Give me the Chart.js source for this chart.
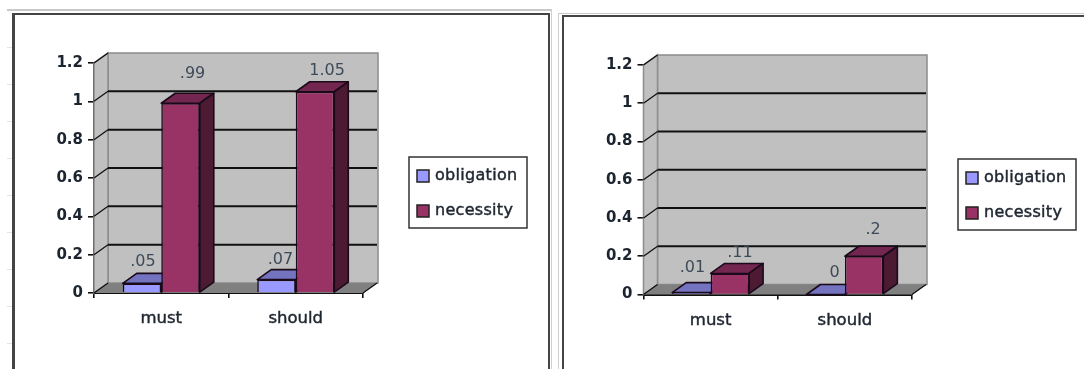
<!DOCTYPE html>
<html>
<head>
<meta charset="utf-8">
<script src="https://cdn.jsdelivr.net/npm/chart.js@4/dist/chart.umd.min.js"></script>
<style>
  html, body { margin: 0; padding: 0; background: #fff; overflow: hidden; }
  #page { position: relative; width: 1084px; height: 369px; filter: blur(0.45px); }
  .line { position: absolute; }
  canvas { position: absolute; top: 0; }
</style>
</head>
<body>
<div id="page">
  <div class="line" style="left:7px;top:9px;width:544px;height:2px;background:#c8c8c8"></div>
  <div class="line" style="left:551px;top:9px;width:1px;height:360px;background:#d0d0d0"></div>
  <div class="line" style="left:7px;top:47px;width:5px;height:322px;background:repeating-linear-gradient(#e4e4e4 0 1px,transparent 1px 37px)"></div>
  <div class="line" style="left:12px;top:13px;width:537px;height:2px;background:#444"></div>
  <div class="line" style="left:12px;top:13px;width:3px;height:356px;background:#444"></div>
  <div class="line" style="left:548px;top:13px;width:2px;height:356px;background:#444"></div>
  <div class="line" style="left:558px;top:13px;width:526px;height:1px;background:#c8c8c8"></div>
  <div class="line" style="left:558px;top:13px;width:1px;height:356px;background:#d0d0d0"></div>
  <div class="line" style="left:562px;top:15px;width:522px;height:2px;background:#444"></div>
  <div class="line" style="left:562px;top:15px;width:2px;height:354px;background:#444"></div>
  <canvas id="left" width="548" height="369" style="left:0"></canvas>
  <canvas id="right" width="532" height="369" style="left:552px"></canvas>
</div>
<script>
const categories = ['must', 'should'];
const seriesNames = ['obligation', 'necessity'];

const leftObligation = [0.05, 0.07];
const leftNecessity = [0.99, 1.05];
const leftObligationText = ['.05', '.07'];
const leftNecessityText = ['.99', '1.05'];

const rightObligation = [0.01, 0];
const rightNecessity = [0.11, 0.2];
const rightObligationText = ['.01', '0'];
const rightNecessityText = ['.11', '.2'];

const textFont = '"DejaVu Sans", sans-serif';
const depthX = 14, depthY = 10;

// fake 3D excel look: walls + floor behind the bars
const wallsPlugin = {
  id: 'walls',
  beforeDatasetsDraw(chart) {
    const { ctx, chartArea: a, scales: { y } } = chart;
    ctx.save();
    ctx.fillStyle = '#c0c0c0';
    ctx.strokeStyle = '#8c8c8c';
    ctx.lineWidth = 1.5;
    ctx.beginPath();
    ctx.rect(a.left + depthX, a.top - depthY, a.width + 1, a.height);
    ctx.fill();
    ctx.stroke();
    ctx.beginPath();
    ctx.moveTo(a.left, a.bottom);
    ctx.lineTo(a.left + depthX, a.bottom - depthY);
    ctx.lineTo(a.left + depthX, a.top - depthY);
    ctx.lineTo(a.left, a.top);
    ctx.closePath();
    ctx.fill();
    ctx.stroke();
    ctx.fillStyle = '#808080';
    ctx.beginPath();
    ctx.moveTo(a.left, a.bottom);
    ctx.lineTo(a.left + depthX, a.bottom - depthY);
    ctx.lineTo(a.right + depthX + 1, a.bottom - depthY);
    ctx.lineTo(a.right, a.bottom);
    ctx.closePath();
    ctx.fill();
    ctx.strokeStyle = '#111';
    y.ticks.forEach(t => {
      const py = y.getPixelForValue(t.value);
      if (t.value > 0 && t.value < 1.2) {
        ctx.lineWidth = 2;
        ctx.beginPath();
        ctx.moveTo(a.left + depthX, py - depthY);
        ctx.lineTo(a.right + depthX, py - depthY);
        ctx.stroke();
      }
      ctx.lineWidth = 1.3;
      ctx.beginPath();
      ctx.moveTo(a.left, py);
      ctx.lineTo(a.left + depthX, py - depthY);
      ctx.stroke();
    });
    ctx.beginPath();
    ctx.moveTo(a.right, a.bottom);
    ctx.lineTo(a.right + depthX, a.bottom - depthY);
    ctx.stroke();

    // bars left to right so the red front hides the blue top and side
    ctx.strokeStyle = '#1a0a1a';
    ctx.lineJoin = 'round';
    chart.data.datasets.forEach((ds, i) => {
      chart.getDatasetMeta(i).data.forEach(bar => {
        const l = bar.x - bar.width / 2, r = bar.x + bar.width / 2;
        const t = bar.y, b = bar.base;
        ctx.lineWidth = 1.6;
        ctx.fillStyle = ds.topColor;
        ctx.beginPath();
        ctx.moveTo(l, t);
        ctx.lineTo(l + depthX, t - depthY);
        ctx.lineTo(r + depthX, t - depthY);
        ctx.lineTo(r, t);
        ctx.closePath();
        ctx.fill();
        ctx.stroke();
        ctx.fillStyle = ds.sideColor;
        ctx.beginPath();
        ctx.moveTo(r, t);
        ctx.lineTo(r + depthX, t - depthY);
        ctx.lineTo(r + depthX, b - depthY);
        ctx.lineTo(r, b);
        ctx.closePath();
        ctx.fill();
        ctx.stroke();
        bar.draw(ctx);
      });
    });
    ctx.restore();
  },
  beforeDatasetDraw() {
    return false; // already drawn above, in the order excel uses
  },
  afterDatasetsDraw(chart) {
    const { ctx, chartArea: a } = chart;
    ctx.save();
    // value labels
    ctx.font = '16px ' + textFont;
    ctx.fillStyle = '#3d4a58';
    ctx.textAlign = 'center';
    ctx.textBaseline = 'middle';
    chart.data.datasets.forEach((ds, i) => {
      chart.getDatasetMeta(i).data.forEach((bar, j) => {
        ctx.fillText(ds.valueText[j], bar.x + ds.labelDx[j], bar.y - ds.labelDy[j]);
      });
    });
    // legend box
    const lx = a.right + 46, ly = a.top + 94;
    ctx.strokeStyle = '#333';
    ctx.lineWidth = 1.5;
    ctx.fillStyle = '#fff';
    ctx.fillRect(lx, ly, 118, 71);
    ctx.strokeRect(lx, ly, 118, 71);
    ctx.textAlign = 'left';
    ctx.font = '16px ' + textFont;
    ctx.letterSpacing = '0.3px';
    chart.data.datasets.forEach((ds, i) => {
      const rowY = ly + 19 + i * 35;
      ctx.fillStyle = ds.backgroundColor;
      ctx.fillRect(lx + 8, rowY - 6, 12, 12);
      ctx.strokeStyle = '#222';
      ctx.lineWidth = 1.5;
      ctx.strokeRect(lx + 8, rowY - 6, 12, 12);
      ctx.fillStyle = '#1f2630';
      ctx.strokeStyle = '#1f2630';
      ctx.lineWidth = 0.45;
      ctx.fillText(ds.label, lx + 26, rowY);
      ctx.strokeText(ds.label, lx + 26, rowY);
    });
    ctx.restore();
  }
};

function makeChart(id, obligation, necessity, obligationText, necessityText, box, dx, dy) {
  return new Chart(document.getElementById(id), {
    type: 'bar',
    data: {
      labels: categories,
      datasets: [
        {
          label: seriesNames[0], data: obligation,
          backgroundColor: '#9999ff', topColor: '#7373c0', sideColor: '#5c5c99',
          borderColor: '#1a0a1a', borderWidth: 1.6,
          valueText: obligationText, labelDx: dx[0], labelDy: dy[0]
        },
        {
          label: seriesNames[1], data: necessity,
          backgroundColor: '#993366', topColor: '#732650', sideColor: '#4d1a33',
          borderColor: '#1a0a1a', borderWidth: 1.6,
          valueText: necessityText, labelDx: dx[1], labelDy: dy[1]
        }
      ]
    },
    options: {
      responsive: false,
      animation: false,
      categoryPercentage: 0.573,
      barPercentage: 1,
      layout: { padding: { top: box.top, right: box.right } },
      plugins: { legend: { display: false }, tooltip: { enabled: false } },
      scales: {
        x: {
          afterFit(s) { s.height = 369 - box.bottom; s.paddingLeft = 0; s.paddingRight = 0; },
          border: { color: '#111', width: 2 },
          grid: { drawOnChartArea: false, color: '#111', tickLength: 5, lineWidth: 1.6 },
          ticks: {
            padding: 11,
            color: '#1f2630',
            textStrokeColor: '#1f2630',
            textStrokeWidth: 0.45,
            font: { family: textFont, size: 16.5 }
          }
        },
        y: {
          min: 0,
          max: 1.2,
          afterFit(s) { s.width = box.left; s.paddingTop = 0; s.paddingBottom = 0; },
          border: { color: '#111', width: 2 },
          grid: { drawOnChartArea: false, color: '#111', tickLength: 6, lineWidth: 1.6 },
          ticks: {
            stepSize: 0.2,
            padding: 5,
            color: '#1c2430',
            font: { family: textFont, size: 15, weight: 'bold' },
            callback: v => String(Math.round(v * 10) / 10)
          }
        }
      }
    },
    plugins: [wallsPlugin]
  });
}

makeChart('left', leftObligation, leftNecessity, leftObligationText, leftNecessityText,
  { left: 94, right: 185, top: 63, bottom: 293 },
  [[1, 4], [12, 12]], [[22, 20], [29, 21]]);

makeChart('right', rightObligation, rightNecessity, rightObligationText, rightNecessityText,
  { left: 91.5, right: 172, top: 65, bottom: 294.5 },
  [[1, 9], [10, 9]], [[25, 22], [21, 26]]);
</script>
</body>
</html>
